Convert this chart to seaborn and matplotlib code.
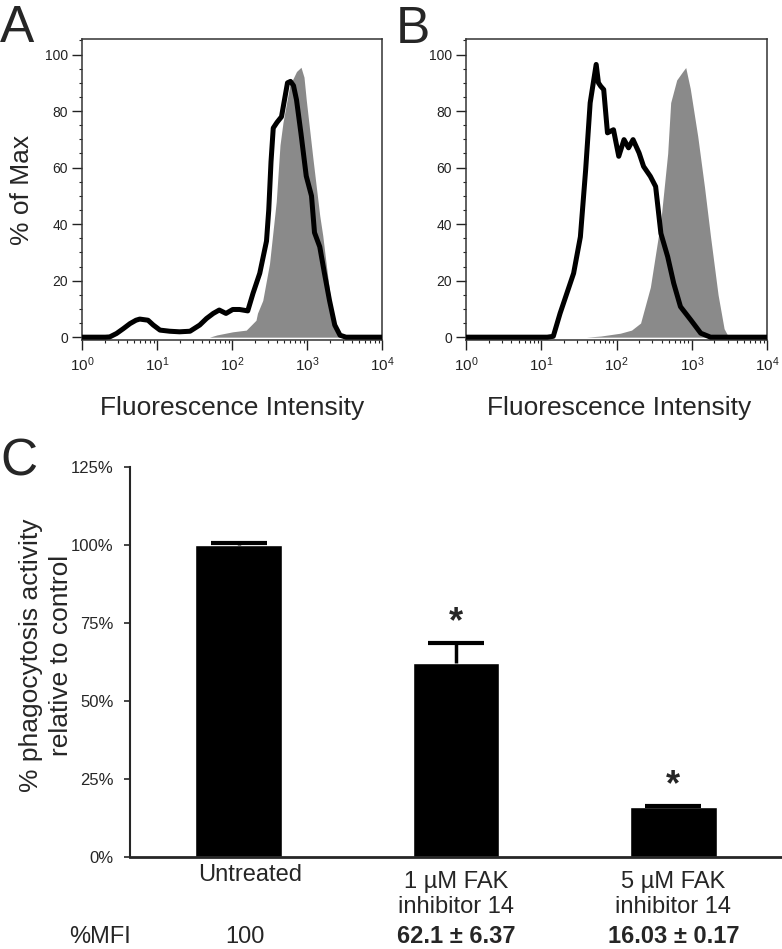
import numpy as np
import pandas as pd
import matplotlib
matplotlib.use("Agg")
import matplotlib.pyplot as plt
import matplotlib.ticker as mticker
from matplotlib import transforms
import seaborn as sns

# ---- data: flow cytometry overlays (log10 intensity, % of max) ----
# grey filled = control, black line = treated sample
a_ctrl_log = [1.70, 1.80, 2.01, 2.19, 2.32, 2.34, 2.41, 2.50, 2.59, 2.64, 2.68, 2.77,
              2.86, 2.92, 2.96, 2.99, 3.08, 3.17, 3.21, 3.26, 3.34, 3.40, 3.46, 3.50]
a_ctrl_pct = [0, 0.8, 1.9, 2.5, 6, 8.5, 13, 26, 48, 68, 76, 89,
              94, 95.5, 92, 84, 63, 43, 36, 25, 8, 2, 0.3, 0]
a_smp_log = [0.0, 0.31, 0.37, 0.46, 0.55, 0.64, 0.72, 0.77, 0.88, 0.95, 1.04, 1.17,
             1.30, 1.44, 1.57, 1.66, 1.75, 1.83, 1.92, 2.01, 2.10, 2.21, 2.28, 2.37,
             2.46, 2.49, 2.52, 2.55, 2.60, 2.66, 2.70, 2.74, 2.78, 2.82, 2.86, 2.92,
             2.99, 3.06, 3.10, 3.17, 3.23, 3.30, 3.37, 3.44, 3.52, 4.0]
a_smp_pct = [0, 0, 0.1, 1.3, 3, 4.8, 6, 6.4, 6, 4.3, 2.5, 2.1,
             1.9, 2.1, 4.3, 6.6, 8.4, 9.6, 8.4, 9.8, 9.8, 9.3, 15.5, 22.6,
             34, 45, 62, 74, 76, 78, 84, 90, 90.5, 89, 84, 72,
             57, 50, 37, 32, 23, 13, 4.3, 0.7, 0, 0]

b_ctrl_log = [1.60, 1.79, 2.05, 2.20, 2.32, 2.45, 2.59, 2.68, 2.72, 2.80, 2.88, 2.92,
              2.98, 3.08, 3.17, 3.25, 3.35, 3.43, 3.49]
b_ctrl_pct = [0, 0.4, 1.4, 2.5, 5, 17.7, 41.5, 65, 83, 91, 94, 95.4,
              88, 71, 53, 35.5, 15, 3, 0]
b_smp_log = [0.0, 1.08, 1.16, 1.25, 1.34, 1.43, 1.52, 1.59, 1.65, 1.73, 1.76, 1.79,
             1.83, 1.88, 1.96, 2.03, 2.10, 2.16, 2.22, 2.30, 2.36, 2.45, 2.52, 2.59,
             2.68, 2.76, 2.85, 2.99, 3.12, 3.25, 4.0]
b_smp_pct = [0, 0, 0.3, 8.4, 15.5, 22.6, 35.5, 59.2, 82.9, 96.5, 90, 88.8,
             87.6, 72.3, 73.4, 64, 69.9, 67, 69.9, 65.2, 60.4, 56.9, 53.3, 36.7,
             28.5, 19.1, 10.8, 6, 1.4, 0, 0]

# ---- data: phagocytosis bar chart ----
groups = ["Untreated", "1 µM FAK\ninhibitor 14", "5 µM FAK\ninhibitor 14"]
mean_pct = [100, 62.1, 16.03]
sem_pct = [0.5, 6.37, 0.17]
mfi_text = ["100", "62.1 ± 6.37", "16.03 ± 0.17"]
signif = [False, True, True]

sns.set_style("ticks")
plt.rcParams["font.family"] = ["Liberation Sans", "DejaVu Sans"]
plt.rcParams["axes.unicode_minus"] = False

W, H = 782, 949
fig = plt.figure(figsize=(W / 100, H / 100), dpi=100)


def px_rect(left, top, right, bottom):
    return [left / W, 1 - bottom / H, (right - left) / W, (bottom - top) / H]


GREY = "#8a8a8a"


def draw_hist(ax, ctrl_log, ctrl_pct, smp_log, smp_pct):
    ax.set_xscale("log")
    ax.fill_between(10 ** np.asarray(ctrl_log), 0, ctrl_pct, color=GREY, lw=0, zorder=1)
    sns.lineplot(x=10 ** np.asarray(smp_log), y=smp_pct, ax=ax, color="black",
                 lw=3.6, sort=False, estimator=None, zorder=3)
    for ln in ax.lines:
        ln.set_solid_joinstyle("round")
        ln.set_solid_capstyle("round")
    ax.set_xlim(1, 1e4)
    ax.set_ylim(-1, 105.5)
    ax.yaxis.set_major_locator(mticker.FixedLocator([0, 20, 40, 60, 80, 100]))
    ax.yaxis.set_minor_locator(mticker.MultipleLocator(5))
    ax.xaxis.set_major_locator(mticker.LogLocator(base=10, numticks=10))
    ax.xaxis.set_minor_locator(mticker.LogLocator(base=10, subs=np.arange(2, 10), numticks=10))
    ax.xaxis.set_minor_formatter(mticker.NullFormatter())
    ax.tick_params(which="major", direction="out", length=7, width=1, colors="#222222")
    ax.tick_params(which="minor", direction="out", length=2.5, width=0.8, colors="#222222")
    ax.tick_params(axis="y", labelsize=10, pad=3)
    ax.tick_params(axis="x", labelsize=11, pad=4)
    for s in ax.spines.values():
        s.set_visible(True)
        s.set_linewidth(1.1)
        s.set_color("#333333")
    # first decade label sits to the right of the axis corner
    first = ax.get_xticklabels()[0]
    first.set_transform(first.get_transform()
                        + transforms.ScaledTranslation(0.14, 0, fig.dpi_scale_trans))
    ax.set_xlabel("")
    ax.set_ylabel("")


ax_a = fig.add_axes(px_rect(82, 39, 382, 340))
ax_b = fig.add_axes(px_rect(466, 39, 767, 340))
draw_hist(ax_a, a_ctrl_log, a_ctrl_pct, a_smp_log, a_smp_pct)
draw_hist(ax_b, b_ctrl_log, b_ctrl_pct, b_smp_log, b_smp_pct)

fig.text(22 / W, 1 - 190 / H, "% of Max", rotation=90, ha="center", va="center", fontsize=19)
fig.text(232 / W, 1 - 408 / H, "Fluorescence Intensity", ha="center", va="center", fontsize=19)
fig.text(619 / W, 1 - 408 / H, "Fluorescence Intensity", ha="center", va="center", fontsize=19)

# ---- panel C ----
ax_c = fig.add_axes(px_rect(130, 467, 782, 857))
bar_df = pd.DataFrame({"group": groups, "pct": mean_pct})
sns.barplot(data=bar_df, x="group", y="pct", color="black", saturation=1,
            width=0.4, errorbar=None, ax=ax_c)
xpos = np.arange(len(groups))
eb = ax_c.errorbar(xpos, mean_pct, yerr=[np.zeros(len(groups)), sem_pct], fmt="none",
                   ecolor="black", elinewidth=2.5, capsize=20, capthick=3, zorder=3)
# only the upper cap is drawn in the original
eb[1][0].set_visible(False)
for x, m, e, s in zip(xpos, mean_pct, sem_pct, signif):
    if s:
        ax_c.text(x, m + e + 3.5, "*", ha="center", va="baseline",
                  fontsize=26, fontweight="bold")

ax_c.set_xlim(-0.5, 2.5)
ax_c.set_ylim(0, 125)
ax_c.yaxis.set_major_locator(mticker.MultipleLocator(25))
ax_c.yaxis.set_major_formatter(mticker.PercentFormatter(decimals=0))
ax_c.tick_params(axis="y", length=4, width=1.2, pad=8, labelsize=12)
ax_c.tick_params(axis="x", length=0, pad=10, labelsize=17)
ax_c.set_xlabel("")
ax_c.set_ylabel("")
sns.despine(ax=ax_c)
ax_c.spines["left"].set_linewidth(1.5)
ax_c.spines["bottom"].set_linewidth(2)

shift = transforms.ScaledTranslation(0.11, 0.065, fig.dpi_scale_trans)
lbl0 = ax_c.get_xticklabels()[0]
lbl0.set_transform(lbl0.get_transform() + shift)

fig.text(46 / W, 1 - 655 / H, "% phagocytosis activity\nrelative to control",
         rotation=90, ha="center", va="center", fontsize=19, linespacing=1.3)

# %MFI summary row under the bars
row_y = 6 / H
row = transforms.blended_transform_factory(ax_c.transData, fig.transFigure)
fig.text(100 / W, row_y, "%MFI", ha="center", va="baseline", fontsize=17)
for i, (txt, s) in enumerate(zip(mfi_text, signif)):
    t = ax_c.text(xpos[i], row_y, txt, transform=row, ha="center", va="baseline",
                  fontsize=17, fontweight="bold" if s else "normal")
    if i == 0:
        t.set_transform(row + transforms.ScaledTranslation(0.06, 0, fig.dpi_scale_trans))

# panel letters
fig.text(0 / W, 1 - 4 / H, "A", ha="left", va="top", fontsize=37)
fig.text(396 / W, 1 - 5 / H, "B", ha="left", va="top", fontsize=37)
fig.text(0 / W, 1 - 438 / H, "C", ha="left", va="top", fontsize=37)

fig.savefig("out.png", dpi=100)
